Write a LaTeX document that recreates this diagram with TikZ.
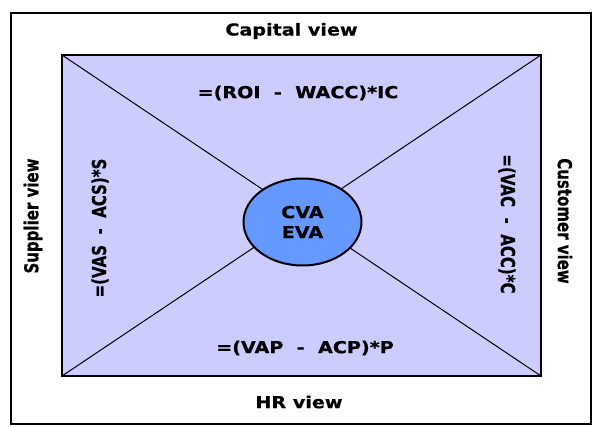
\documentclass[tikz,border=0pt]{standalone}
\usepackage{fontspec}
\usepackage{graphicx}
\usetikzlibrary{shapes.geometric}
\setmainfont{DejaVu Sans}[BoldFeatures={FakeBold=0.6}]
\definecolor{panel}{HTML}{CCCCFF}
\definecolor{core}{HTML}{6699FF}
% labels are set a little wider than the font's own proportions
\newcommand{\wide}[1]{\scalebox{1.16}[1]{#1}}
\newcommand{\tall}[1]{\scalebox{1}[1.28]{#1}}
\newcommand{\gap}{\hspace{0.7em}}
\begin{document}
\begin{tikzpicture}[x=1pt,y=-1pt,
  lbl/.style={inner sep=0pt, font=\fontsize{16.5}{20}\selectfont\bfseries},
  side/.style={inner sep=0pt, font=\fontsize{15}{20}\selectfont\bfseries},
  frame/.style={draw=black, line width=2pt},
  field/.style={draw=black, line width=2.5pt, fill=panel},
  diag/.style={draw=black, line width=1pt},
  hub/.style={ellipse, draw=black, line width=2pt, fill=core,
    minimum width=118pt, minimum height=87pt, inner sep=0pt, align=center,
    font=\fontsize{16.5}{20}\selectfont\bfseries}]
\useasboundingbox (0,0) rectangle (594,427);
% outer frame
\draw[frame] (11,13) rectangle (591,424);
% central field with its corners
\draw[field] (62,55) rectangle (541,376);
\coordinate (tl) at (62,55);
\coordinate (tr) at (541,55);
\coordinate (bl) at (62,376);
\coordinate (br) at (541,376);
\draw[diag] (tl) -- (br);
\draw[diag] (tr) -- (bl);
% value hub
\node[hub] (hub) at (302.5,222) {\wide{CVA}\\\wide{EVA}};
% view labels
\node[lbl] (capital) at (291.5,31) {\wide{Capital view}};
\node[lbl] (hr) at (299,402) {\wide{HR view}};
\node[side, rotate=90] (supplier) at (33,216) {\tall{Supplier view}};
\node[side, rotate=-90] (customer) at (565,221) {\tall{Customer view}};
% formulas
\node[lbl] (roi) at (298,93) {\wide{=(ROI\gap-\gap WACC)*IC}};
\node[lbl] (vap) at (305,348) {\wide{=(VAP\gap-\gap ACP)*P}};
\node[side, rotate=90] (vas) at (100,228) {\tall{=(VAS\gap-\gap ACS)*S}};
\node[side, rotate=-90] (vac) at (507,224) {\tall{=(VAC\gap-\gap ACC)*C}};
\end{tikzpicture}
\end{document}
